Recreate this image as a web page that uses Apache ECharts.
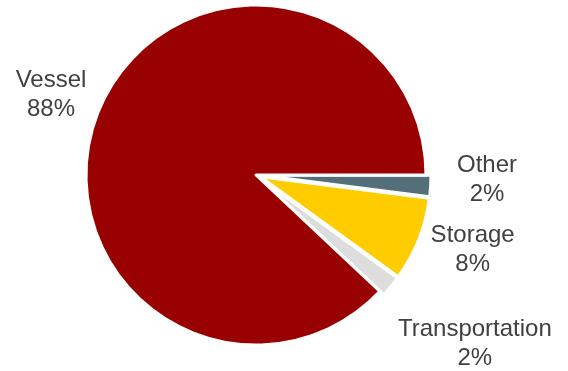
<!DOCTYPE html>
<html>
<head>
<meta charset="utf-8">
<script src="https://cdn.jsdelivr.net/npm/echarts@6/dist/echarts.min.js"></script>
<style>
  html, body { margin: 0; padding: 0; background: #ffffff; }
  #chart { width: 568px; height: 371px; }
</style>
</head>
<body>
<div id="chart"></div>
<script>
// Share of spend by category (%)
const categories = ['Other', 'Storage', 'Transportation', 'Vessel'];
const shares = [2, 8, 2, 88];
const colors = ['#546E7A', '#FFCC00', '#DDDDDD', '#990000'];

// Label anchor points (text block centres), one per category
const labelSpots = [[482, 180], [468, 248], [471, 341], [51, 95]];

const chart = echarts.init(document.getElementById('chart'), null, { renderer: 'canvas' });

const data = categories.map((name, i) => ({
  name: name,
  value: shares[i],
  selected: name !== 'Vessel',
  itemStyle: { color: colors[i] }
}));

chart.setOption({
  animation: false,
  backgroundColor: '#ffffff',
  series: [{
    type: 'pie',
    center: [256, 175],
    radius: [0, 170],
    startAngle: 0,
    clockwise: true,
    selectedMode: 'multiple',
    selectedOffset: 5,
    avoidLabelOverlap: false,
    itemStyle: { borderColor: '#ffffff', borderWidth: 3 },
    label: {
      show: true,
      position: 'outside',
      formatter: '{b}\n{c}%',
      fontFamily: 'Liberation Sans, Arial, sans-serif',
      fontSize: 24,
      lineHeight: 29,
      color: '#404040'
    },
    labelLine: { show: false },
    // centre each label's lines on the chosen spot
    labelLayout: function (params) {
      const p = labelSpots[params.dataIndex];
      const r = params.labelRect;
      let anchorX = r.x + r.width / 2;
      if (params.align === 'left') anchorX = r.x;
      else if (params.align === 'right') anchorX = r.x + r.width;
      return {
        align: 'center',
        dx: p[0] - anchorX,
        dy: p[1] - (r.y + r.height / 2)
      };
    },
    emphasis: { disabled: true },
    data: data
  }]
});
</script>
</body>
</html>
